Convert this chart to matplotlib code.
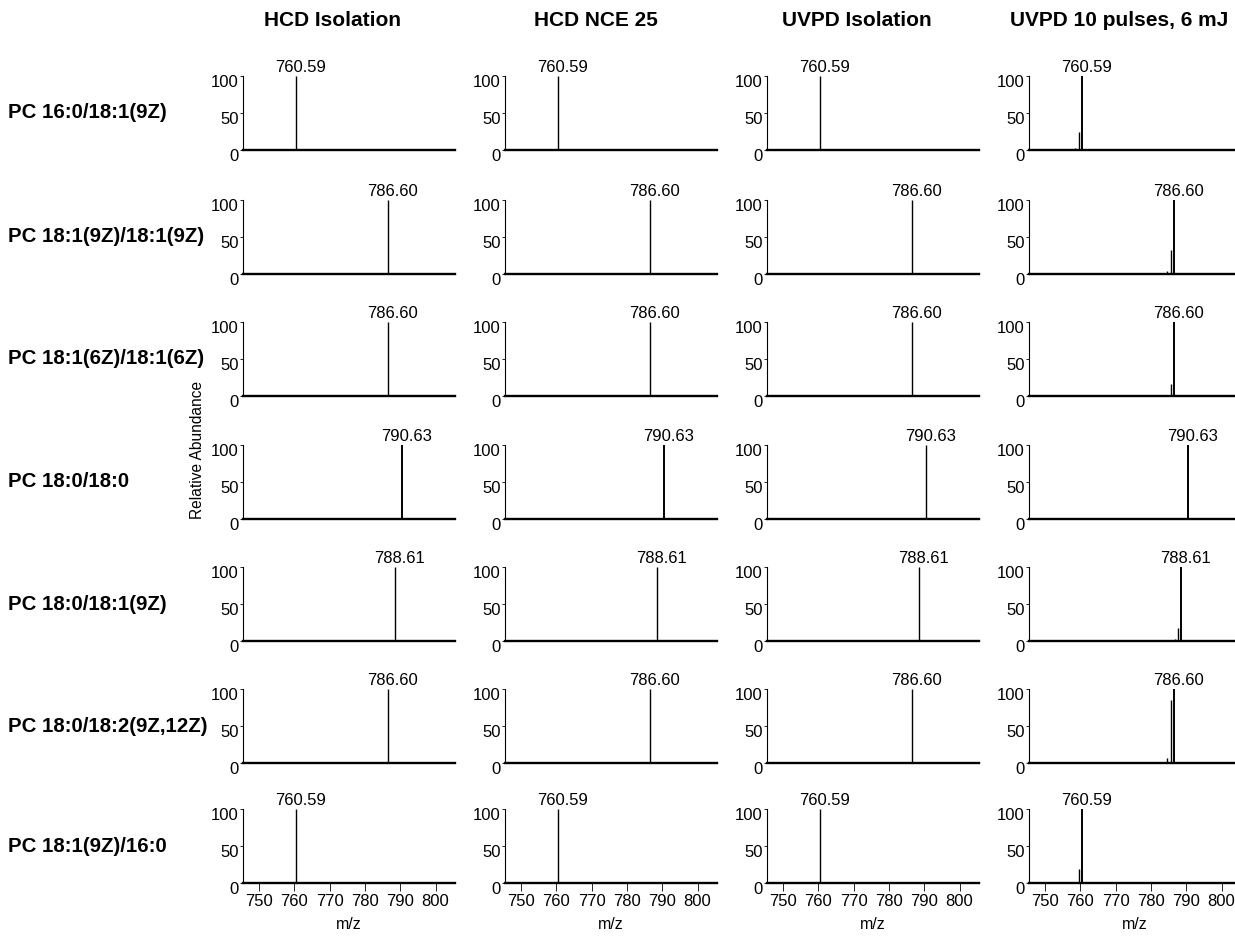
import matplotlib
matplotlib.use("Agg")
import matplotlib.pyplot as plt
import matplotlib.transforms as mtransforms

plt.rcParams['font.family'] = ['Liberation Sans', 'DejaVu Sans']

# ---------------- data ----------------
columns = ["HCD Isolation", "HCD NCE 25", "UVPD Isolation", "UVPD 10 pulses, 6 mJ"]
rows = ["PC 16:0/18:1(9Z)", "PC 18:1(9Z)/18:1(9Z)", "PC 18:1(6Z)/18:1(6Z)",
        "PC 18:0/18:0", "PC 18:0/18:1(9Z)", "PC 18:0/18:2(9Z,12Z)", "PC 18:1(9Z)/16:0"]
precursor_mz = [760.59, 786.60, 786.60, 790.63, 788.61, 786.60, 760.59]
precursor_label = ["760.59", "786.60", "786.60", "790.63", "788.61", "786.60", "760.59"]

# UVPD 10 pulses fragments (m/z, relative abundance) per row
uvpd_mz = [
    [758.6, 759.6, 760.59],
    [784.6, 785.6, 786.60],
    [784.6, 785.6, 786.60],
    [790.63],
    [786.9, 787.6, 788.61],
    [770.5, 784.6, 785.6, 786.60],
    [758.6, 759.6, 760.59],
]
uvpd_int = [
    [3, 24, 100],
    [4, 32, 100],
    [2, 16, 100],
    [100],
    [3, 17, 100],
    [1, 7, 85, 100],
    [2, 19, 100],
]
x_ticks = [750, 760, 770, 780, 790, 800]
y_ticks = [0, 50, 100]

# ---------------- layout ----------------
W, H = 1235, 936
fig = plt.figure(figsize=(W / 100, H / 100), dpi=100)

col_left = [243, 505, 767, 1029]
ax_w = 212
baselines = [150, 274, 396, 519, 641, 763, 883]
ax_h = 74
down = mtransforms.ScaledTranslation(0, -5 / 100, fig.dpi_scale_trans)

for r in range(len(rows)):
    for c in range(len(columns)):
        ax = fig.add_axes([col_left[c] / W, (H - baselines[r]) / H, ax_w / W, ax_h / H])
        ax.set_xlim(745.5, 805.5)
        ax.set_ylim(0, 100)
        if c == 3:
            mzs, ints = uvpd_mz[r], uvpd_int[r]
        else:
            mzs, ints = [precursor_mz[r]], [100]
        lw_main = 1.4 if (c == 3 or (r == 3 and c < 2)) else 1.0
        for m, v in zip(mzs, ints):
            lw = lw_main if v == 100 else 1.0
            ax.vlines(m, 0, v, color='black', lw=lw, clip_on=False)
        ax.text(precursor_mz[r] + 1.3, 101, precursor_label[r], ha='center', va='bottom',
                fontsize=12)
        for s in ['top', 'right']:
            ax.spines[s].set_visible(False)
        ax.spines['left'].set_linewidth(0.8)
        ax.spines['bottom'].set_linewidth(1.7)
        ax.set_yticks(y_ticks)
        ax.set_yticklabels([str(t) for t in y_ticks], fontsize=12)
        ax.tick_params(axis='y', length=2, width=0.6, pad=1)
        for lab in ax.get_yticklabels():
            lab.set_transform(lab.get_transform() + down)
        if r == len(rows) - 1:
            ax.set_xticks(x_ticks)
            ax.set_xticklabels([str(t) for t in x_ticks], fontsize=12)
            ax.tick_params(axis='x', length=6, width=0.6, pad=2)
            ax.set_xlabel("m/z", fontsize=11.5, labelpad=6)
        else:
            ax.set_xticks([])
        ax.patch.set_visible(False)

# row labels
for r, name in enumerate(rows):
    yc = baselines[r] - ax_h / 2
    fig.text(8 / W, 1 - yc / H, name, ha='left', va='center', fontsize=14.7, fontweight='bold')

# column titles
title_x = [333, 596, 857, 1119]
for c, t in enumerate(columns):
    fig.text(title_x[c] / W, 1 - 20 / H, t, ha='center', va='center', fontsize=15, fontweight='bold')

fig.text(197 / W, 1 - 450 / H, "Relative Abundance", rotation=90, ha='center', va='center',
         fontsize=11.2)

fig.savefig("out.png", dpi=100)
